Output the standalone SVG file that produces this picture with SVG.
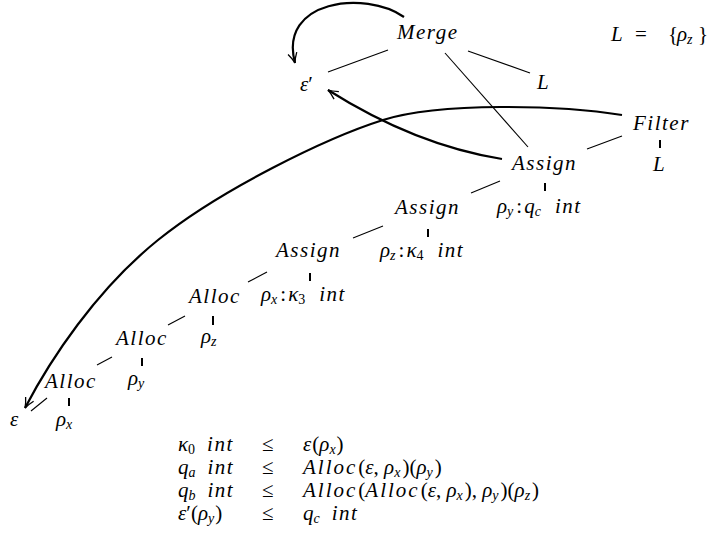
<svg xmlns="http://www.w3.org/2000/svg" width="709" height="559" viewBox="0 0 709 559">
<defs>
<marker id="a" markerUnits="userSpaceOnUse" markerWidth="14" markerHeight="14" viewBox="-12 -7 14 14" refX="0" refY="0" orient="auto">
<path d="M-10,-4.5 Q-4,-1 0,0 Q-4,1 -10,4.5" stroke="#000" stroke-width="1.3" fill="none"/>
</marker>
</defs>
<rect width="709" height="559" fill="#fff"/>
<g id="connectors" stroke="#000" fill="none">
<g stroke-width="1.1">
<line x1="388" y1="50" x2="328" y2="72"/>
<line x1="468" y1="51" x2="530" y2="73"/>
<line x1="445" y1="53" x2="528" y2="147"/>
<line x1="622" y1="136" x2="587" y2="149"/>
<line x1="500" y1="181" x2="471" y2="193"/>
<line x1="383" y1="226" x2="353" y2="238"/>
<line x1="267" y1="272" x2="248" y2="282"/>
<line x1="185" y1="316" x2="168" y2="325"/>
<line x1="112" y1="357" x2="97" y2="365"/>
<line x1="47" y1="398" x2="31" y2="411"/>
</g>
<g stroke-width="2">
<line x1="660" y1="140" x2="660" y2="148"/>
<line x1="545" y1="183" x2="545" y2="191"/>
<line x1="428" y1="229" x2="428" y2="237"/>
<line x1="310" y1="273" x2="310" y2="281"/>
<line x1="213" y1="316" x2="213" y2="325"/>
<line x1="142" y1="358" x2="142" y2="366"/>
<line x1="69" y1="398" x2="69" y2="406"/>
</g>
<g stroke-width="2.2">
<path d="M404,17 C365,-10 278,0 295,63" marker-end="url(#a)"/>
<path d="M502,159 Q415,145 328,90" marker-end="url(#a)"/>
<path d="M622,115 C560,105 440,102 383,120 S220,190 158,240 S50,360 25,408" marker-end="url(#a)"/>
</g>
</g>
<g font-family="Liberation Serif" font-style="italic" font-size="21" fill="#000">
<g id="merge"><text font-family="Liberation Serif" x="397" y="39" letter-spacing="1.5">Merge</text></g>
<g id="Ldef"><text font-family="Liberation Serif" x="611" y="41">L<tspan font-style="normal" x="635">=</tspan><tspan font-style="normal" x="668">{</tspan><tspan x="677">ρ</tspan><tspan font-size="14" dy="3">z</tspan><tspan font-style="normal" dy="-3" x="698">}</tspan></text></g>
<g id="epsprime"><text font-family="Liberation Serif" x="300" y="91">ε<tspan font-style="normal">′</tspan></text></g>
<g id="L1"><text font-family="Liberation Serif" x="537" y="89">L</text></g>
<g id="filter"><text font-family="Liberation Serif" x="633" y="130" letter-spacing="1.5">Filter</text></g>
<g id="L2"><text font-family="Liberation Serif" x="653" y="171">L</text></g>
<g id="assign1"><text font-family="Liberation Serif" x="512" y="170" letter-spacing="1.5">Assign</text></g>
<g id="lab1"><text font-family="Liberation Serif" x="497" y="213">ρ<tspan font-size="14" dy="3">y</tspan><tspan font-style="normal" dy="-3" dx="3">:</tspan><tspan dx="2">q</tspan><tspan font-size="14" dy="3">c</tspan><tspan letter-spacing="1.5" dy="-3" dx="14">int</tspan></text></g>
<g id="assign2"><text font-family="Liberation Serif" x="395" y="214" letter-spacing="1.5">Assign</text></g>
<g id="lab2"><text font-family="Liberation Serif" x="380" y="257">ρ<tspan font-size="14" dy="3">z</tspan><tspan font-style="normal" dy="-3" dx="3">:</tspan><tspan dx="2">κ</tspan><tspan font-size="14" font-style="normal" dy="3">4</tspan><tspan letter-spacing="1.5" dy="-3" dx="14">int</tspan></text></g>
<g id="assign3"><text font-family="Liberation Serif" x="276" y="257" letter-spacing="1.5">Assign</text></g>
<g id="lab3"><text font-family="Liberation Serif" x="261" y="301">ρ<tspan font-size="14" dy="3">x</tspan><tspan font-style="normal" dy="-3" dx="3">:</tspan><tspan dx="2">κ</tspan><tspan font-size="14" font-style="normal" dy="3">3</tspan><tspan letter-spacing="1.5" dy="-3" dx="14">int</tspan></text></g>
<g id="alloc1"><text font-family="Liberation Serif" x="189" y="303" letter-spacing="1.5">Alloc</text></g>
<g id="rz"><text font-family="Liberation Serif" x="201" y="343">ρ<tspan font-size="14" dy="3">z</tspan></text></g>
<g id="alloc2"><text font-family="Liberation Serif" x="116" y="345" letter-spacing="1.5">Alloc</text></g>
<g id="ry"><text font-family="Liberation Serif" x="128" y="385">ρ<tspan font-size="14" dy="3">y</tspan></text></g>
<g id="alloc3"><text font-family="Liberation Serif" x="45" y="388" letter-spacing="1.5">Alloc</text></g>
<g id="rx"><text font-family="Liberation Serif" x="56" y="426">ρ<tspan font-size="14" dy="3">x</tspan></text></g>
<g id="eps"><text font-family="Liberation Serif" x="10" y="426">ε</text></g>
<g id="constraints">
<text font-family="Liberation Serif" x="178" y="451">κ<tspan font-size="14" font-style="normal" dy="3">0</tspan><tspan letter-spacing="1.5" dy="-3" dx="12">int</tspan></text>
<text font-family="Liberation Serif" font-style="normal" x="262" y="451">≤</text>
<text font-family="Liberation Serif" x="303" y="451">ε<tspan font-style="normal" dx="1">(</tspan>ρ<tspan font-size="14" dy="3">x</tspan><tspan font-style="normal" dy="-3" dx="1">)</tspan></text>
<text font-family="Liberation Serif" x="178" y="474">q<tspan font-size="14" dy="3">a</tspan><tspan letter-spacing="1.5" dy="-3" dx="12">int</tspan></text>
<text font-family="Liberation Serif" font-style="normal" x="262" y="474">≤</text>
<text font-family="Liberation Serif" x="303" y="474"><tspan letter-spacing="2">Alloc</tspan><tspan font-style="normal" dx="1">(</tspan>ε<tspan font-style="normal">, </tspan>ρ<tspan font-size="14" dy="3">x</tspan><tspan font-style="normal" dy="-3" dx="2">)(</tspan>ρ<tspan font-size="14" dy="3">y</tspan><tspan font-style="normal" dy="-3" dx="2">)</tspan></text>
<text font-family="Liberation Serif" x="178" y="497">q<tspan font-size="14" dy="3">b</tspan><tspan letter-spacing="1.5" dy="-3" dx="12">int</tspan></text>
<text font-family="Liberation Serif" font-style="normal" x="262" y="497">≤</text>
<text font-family="Liberation Serif" x="303" y="497"><tspan letter-spacing="2">Alloc</tspan><tspan font-style="normal" dx="1">(</tspan><tspan letter-spacing="2">Alloc</tspan><tspan font-style="normal" dx="1">(</tspan>ε<tspan font-style="normal">, </tspan>ρ<tspan font-size="14" dy="3">x</tspan><tspan font-style="normal" dy="-3" dx="2">), </tspan>ρ<tspan font-size="14" dy="3">y</tspan><tspan font-style="normal" dy="-3" dx="2">)(</tspan>ρ<tspan font-size="14" dy="3">z</tspan><tspan font-style="normal" dy="-3" dx="2">)</tspan></text>
<text font-family="Liberation Serif" x="178" y="520">ε<tspan font-style="normal">′(</tspan>ρ<tspan font-size="14" dy="3">y</tspan><tspan font-style="normal" dy="-3" dx="1">)</tspan></text>
<text font-family="Liberation Serif" font-style="normal" x="262" y="520">≤</text>
<text font-family="Liberation Serif" x="303" y="520">q<tspan font-size="14" dy="3">c</tspan><tspan letter-spacing="1.5" dy="-3" dx="12">int</tspan></text>
</g>
</g>
</svg>
